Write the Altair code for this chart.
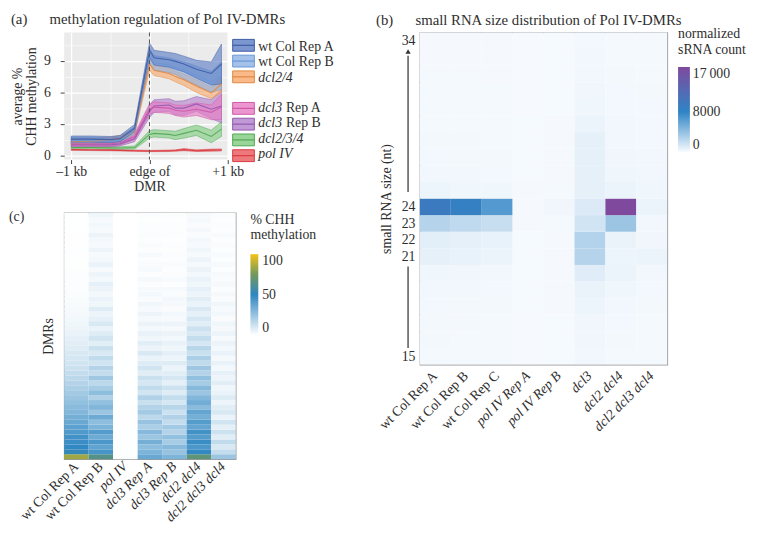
import json
import altair as alt
import pandas as pd

FONT = "Liberation Serif"
INK = "#2e2e2e"
NBSP = "\u00a0"

# ---------------- panel (a): CHH methylation around Pol IV-DMR edges ----------------
a_pos = [-1000, -750, -500, -375, -190, 0, 60, 250, 330, 440, 600, 790, 920]
a_series = ["wt Col Rep A", "wt Col Rep B", "dcl2/4", "dcl3 Rep A", "dcl3 Rep B", "dcl2/3/4", "pol IV"]
a_fill = ["#5b7cc4", "#8db2e4", "#f7a86b", "#e77cc3", "#b27fcb", "#7fcb80", "#e8575c"]
a_line = ["#3e5ca6", "#6a97d6", "#e08840", "#cf56a8", "#9158b0", "#4fa853", "#d93a40"]

wtA_mean = [1.55, 1.55, 1.5, 1.6, 2.6, 10.0, 9.3, 9.1, 8.95, 8.7, 8.2, 7.8, 8.7]
wtA_spread = [0.3, 0.3, 0.3, 0.3, 0.35, 0.7, 0.7, 0.7, 0.75, 0.75, 0.85, 1.1, 1.9]
wtB_mean = [1.4, 1.4, 1.35, 1.45, 2.4, 9.5, 8.8, 8.6, 8.4, 8.1, 7.6, 7.0, 7.6]
wtB_spread = [0.3, 0.3, 0.3, 0.3, 0.35, 0.7, 0.7, 0.7, 0.7, 0.8, 0.9, 1.0, 1.3]
d24_mean = [1.3, 1.35, 1.5, 1.6, 2.3, 8.7, 8.1, 7.8, 7.5, 7.2, 6.6, 5.95, 6.8]
d24_spread = [0.25, 0.25, 0.25, 0.3, 0.3, 0.6, 0.5, 0.5, 0.5, 0.55, 0.6, 0.55, 0.8]
d3A_mean = [1.1, 1.1, 1.1, 1.2, 1.8, 4.4, 4.6, 4.5, 4.3, 4.2, 4.4, 4.1, 4.6]
d3A_spread = [0.2, 0.2, 0.2, 0.2, 0.3, 0.5, 0.5, 0.5, 0.5, 0.55, 0.6, 0.7, 1.2]
d3B_mean = [1.0, 1.0, 1.0, 1.1, 1.6, 4.2, 4.7, 4.8, 4.5, 4.5, 4.9, 4.4, 4.7]
d3B_spread = [0.2, 0.2, 0.2, 0.2, 0.3, 0.6, 0.6, 0.6, 0.65, 0.7, 0.7, 0.9, 1.6]
d234_mean = [0.75, 0.75, 0.72, 0.7, 0.75, 2.0, 2.1, 2.0, 1.9, 2.1, 2.4, 1.8, 2.5]
d234_spread = [0.12, 0.12, 0.12, 0.12, 0.15, 0.35, 0.35, 0.35, 0.4, 0.45, 0.5, 0.6, 0.7]
pol4_mean = [0.55, 0.52, 0.5, 0.48, 0.45, 0.42, 0.42, 0.44, 0.46, 0.55, 0.45, 0.5, 0.52]
pol4_spread = [0.06, 0.06, 0.06, 0.06, 0.06, 0.06, 0.06, 0.07, 0.07, 0.1, 0.08, 0.1, 0.1]

a_x_grid = [-1000, -750, -500, -250, 0, 250, 500, 750, 1000]
a_x_ticks = [-1000, 0, 1000]
a_x_labels = ["\u20131 kb", "edge of\nDMR", "+1 kb"]
a_y_grid = [0, 1.5, 3, 4.5, 6, 7.5, 9, 10.5]

leg_slots = ["wt Col Rep A", "wt Col Rep B", "dcl2/4", " ", "dcl3 Rep A", "dcl3 Rep B", "dcl2/3/4", "pol IV"]
leg_italic = ["", "", "dcl2/4", "dcl3", "dcl3", "dcl2/3/4", "pol IV"]
leg_roman = ["wt Col Rep A", "wt Col Rep B", "", "", "", "", ""]
leg_suffix = ["", "", "", "Rep A", "Rep B", "", ""]

a_values = {
    "wt Col Rep A": (wtA_mean, wtA_spread),
    "wt Col Rep B": (wtB_mean, wtB_spread),
    "dcl2/4": (d24_mean, d24_spread),
    "dcl3 Rep A": (d3A_mean, d3A_spread),
    "dcl3 Rep B": (d3B_mean, d3B_spread),
    "dcl2/3/4": (d234_mean, d234_spread),
    "pol IV": (pol4_mean, pol4_spread),
}
rows = []
for s in reversed(a_series):
    m, sp = a_values[s]
    for x, mv, sv in zip(a_pos, m, sp):
        rows.append({"series": s, "pos": x, "mean": mv, "lo": mv - sv, "hi": mv + sv})
a_df = pd.DataFrame(rows)
leg_df = pd.DataFrame({"series": a_series, "ital": leg_italic, "roman": leg_roman, "suffix": leg_suffix})


def js(v):
    if isinstance(v, str) and "\n" in v:
        return json.dumps(v.split("\n"))
    return json.dumps(v)


x_expr = "".join(f"datum.value == {v} ? {js(l)} : " for v, l in zip(a_x_ticks, a_x_labels)) + "''"

fill_scale = alt.Scale(domain=a_series, range=a_fill)
stroke_scale = alt.Scale(domain=a_series, range=a_line)
a_xs = alt.Scale(domain=[-1090, 1000], nice=False, zero=False)
a_ys = alt.Scale(domain=[-0.4, 11.7], nice=False, zero=False)

a_xaxis = alt.Axis(
    values=a_x_grid, labelExpr=x_expr, title=None, domain=False, labelFlush=False,
    labelOverlap=False, gridColor="white",
    gridWidth={"condition": {"test": "datum.value % 1000 == 0", "value": 1.3}, "value": 0.6},
    tickColor={"condition": {"test": "datum.value % 1000 == 0", "value": "#444"}, "value": "transparent"},
    tickSize=4, labelPadding=1, labelLineHeight=15, labelFontSize=14,
)
a_yaxis = alt.Axis(
    values=a_y_grid, labelExpr="datum.value % 3 == 0 ? format(datum.value, 'd') : ''",
    title=["average %", "CHH methylation"], titleLineHeight=14, titlePadding=4, titleFontSize=14,
    domain=False, labelOverlap=False, gridColor="white",
    gridWidth={"condition": {"test": "datum.value % 3 == 0", "value": 1.3}, "value": 0.6},
    tickColor={"condition": {"test": "datum.value % 3 == 0", "value": "#444"}, "value": "transparent"},
    tickSize=4, labelPadding=10, minExtent=22, maxExtent=22, labelFontSize=14,
)

bands = alt.Chart(a_df).mark_area(fillOpacity=0.62, strokeWidth=0.7, strokeOpacity=0.7).encode(
    x=alt.X("pos:Q", scale=a_xs, axis=a_xaxis),
    y=alt.Y("lo:Q", scale=a_ys, axis=a_yaxis),
    y2="hi:Q",
    fill=alt.Fill("series:N", scale=fill_scale, legend=None),
    stroke=alt.Stroke("series:N", scale=stroke_scale, legend=None),
    detail="series:N",
)
lines = alt.Chart(a_df).mark_line(strokeWidth=1.1, opacity=0.9).encode(
    x=alt.X("pos:Q", scale=a_xs),
    y=alt.Y("mean:Q", scale=a_ys, axis=None),
    stroke=alt.Stroke("series:N", scale=stroke_scale, legend=None),
    detail="series:N",
)
edge = alt.Chart(pd.DataFrame({"pos": [0]})).mark_rule(
    color="#555", strokeDash=[4, 3], strokeWidth=1
).encode(x=alt.X("pos:Q", scale=a_xs))

leg_y = alt.Scale(domain=leg_slots, range=[7, 131], paddingInner=0.25, paddingOuter=0)
leg_box = alt.Chart(leg_df).mark_rect(fillOpacity=0.8, strokeWidth=1).encode(
    x=alt.value(171), x2=alt.value(193),
    y=alt.Y("series:N", scale=leg_y, axis=None),
    fill=alt.Fill("series:N", scale=fill_scale, legend=None),
    stroke=alt.Stroke("series:N", scale=stroke_scale, legend=None),
)
leg_line = alt.Chart(leg_df).mark_rule(strokeWidth=1.2).encode(
    x=alt.value(171), x2=alt.value(193),
    y=alt.Y("series:N", scale=leg_y, axis=None),
    stroke=alt.Stroke("series:N", scale=stroke_scale, legend=None),
)
leg_it = alt.Chart(leg_df).mark_text(align="left", baseline="middle", fontStyle="italic", fontSize=14, color=INK).encode(
    x=alt.value(197), y=alt.Y("series:N", scale=leg_y, axis=None), text="ital:N"
)
leg_ro = alt.Chart(leg_df).mark_text(align="left", baseline="middle", fontSize=14, color=INK).encode(
    x=alt.value(197), y=alt.Y("series:N", scale=leg_y, axis=None), text="roman:N"
)
leg_su = alt.Chart(leg_df).mark_text(align="left", baseline="middle", fontSize=14, color=INK).encode(
    x=alt.value(225), y=alt.Y("series:N", scale=leg_y, axis=None), text="suffix:N"
)

panel_a = alt.layer(bands, lines, edge, leg_box, leg_line, leg_it, leg_ro, leg_su).resolve_scale(
    y="independent"
).properties(
    width=166, height=129,
    view=alt.ViewBackground(fill="#EBEBEB", stroke=None),
    title=alt.TitleParams("(a)" + NBSP * 6 + "methylation regulation of Pol IV-DMRs",
                          anchor="start", frame="bounds", offset=5),
)

# ---------------- panel (c): per-DMR CHH methylation heatmap ----------------
c_samples = ["wt Col Rep A", "wt Col Rep B", "pol IV", "dcl3 Rep A", "dcl3 Rep B", "dcl2 dcl4", "dcl2 dcl3 dcl4"]
# 50 row bins, from the bottom (most methylated DMRs) to the top
c_wtA = [84, 52, 49, 47, 45, 42, 39, 36, 33, 30, 28, 26, 24, 22, 20, 18, 16, 14, 12.5, 11,
         10, 9, 8, 7, 6, 5, 4.2, 3.5, 3, 2.5, 2, 1.7, 1.4, 1.2, 1, 0.9, 0.8, 0.7, 0.6, 0.5,
         0.5, 0.4, 0.4, 0.3, 0.3, 0.3, 0.2, 0.2, 0.2, 0.2]
c_wtB = [64, 44, 38, 43, 35, 41, 31, 27, 35, 24, 30, 26, 19, 27, 21, 16, 23, 14, 18, 11,
         15, 9, 13, 7, 11, 8, 5, 9, 6, 4, 8, 3.5, 5, 3, 4.5, 6, 3, 4, 2, 5,
         3, 2, 4, 2, 3, 4.5, 2, 3, 2, 3.5]
c_pol4 = [0.6, 0.5, 0.5, 0.4, 0.4, 0.4, 0.3, 0.3, 0.3, 0.3, 0.3, 0.2, 0.2, 0.2, 0.2, 0.2, 0.2, 0.2, 0.2, 0.2,
          0.1, 0.1, 0.1, 0.1, 0.1, 0.1, 0.1, 0.1, 0.1, 0.1, 0.1, 0.1, 0.1, 0.1, 0.1, 0.1, 0.1, 0.1, 0.1, 0.1,
          0.1, 0.1, 0.1, 0.1, 0.1, 0.1, 0.1, 0.1, 0.1, 0.1]
c_d3A = [36, 31, 27, 33, 24, 29, 20, 25, 16, 22, 18, 13, 19, 11, 15, 10, 13, 7, 11, 8,
         5, 9, 4.5, 7, 3.5, 5.5, 3, 4.5, 2.5, 4, 2, 3.5, 1.5, 3, 2, 1.2, 2.5, 1, 2, 1.5,
         1, 2, 0.8, 1.5, 0.6, 1.2, 0.8, 1, 0.5, 0.8]
c_d3B = [31, 25, 29, 21, 26, 18, 22, 14, 19, 12, 17, 10, 14, 8, 12, 6.5, 10, 7, 4.5, 8,
         4, 6.5, 3.5, 5.5, 3, 4.5, 2.5, 4, 2, 3, 1.5, 2.5, 3, 1.5, 2, 1, 1.8, 1.2, 0.8, 1.5,
         0.8, 1.2, 0.6, 1, 0.5, 0.9, 0.6, 0.7, 0.4, 0.6]
c_d24 = [68, 49, 43, 47, 41, 45, 37, 41, 33, 37, 28, 34, 30, 24, 29, 21, 26, 18, 23, 15,
         20, 13, 17, 10, 14, 9, 12, 7, 10, 6, 9, 5, 7, 4, 6, 3.5, 5, 3, 4.5, 2.5,
         4, 2, 3.5, 2, 3, 1.5, 2.5, 1.5, 2.5, 2]
c_d234 = [24, 14, 9, 15, 7, 12, 6, 11, 5, 9, 7, 4, 8, 5, 3.5, 7, 4, 6, 3, 5.5,
          2.5, 5, 3, 4.5, 2, 4, 2.5, 3.5, 1.5, 3, 2, 3.5, 1.5, 2.5, 1.2, 2.5, 1.5, 2, 1, 2.2,
          1, 1.8, 0.8, 1.5, 1, 1.6, 0.7, 1.3, 0.8, 1.2]
c_cols = [c_wtA, c_wtB, c_pol4, c_d3A, c_d3B, c_d24, c_d234]
c_legend_values = [0, 50, 100]

crow = []
for s, col in zip(c_samples, c_cols):
    for i, v in enumerate(col):
        crow.append({"sample": s, "r0": i, "r1": i + 1, "pct": v})
c_df = pd.DataFrame(crow)

italic_test = {"condition": {"test": "indexof(datum.value, 'wt') == 0", "value": "normal"}, "value": "italic"}

c_rect = alt.Chart(c_df).mark_rect().encode(
    x=alt.X("sample:N", sort=c_samples, scale=alt.Scale(paddingInner=0, paddingOuter=0),
            axis=alt.Axis(title=None, labelAngle=-45, labelAlign="right", labelBaseline="middle",
                          ticks=False, domain=False, labelPadding=5, labelFontSize=14,
                          labelFontStyle=italic_test)),
    y=alt.Y("r0:Q", scale=alt.Scale(domain=[0, 50], nice=False),
            axis=alt.Axis(title="DMRs", labels=False, ticks=False, domain=False, grid=False,
                          minExtent=0, maxExtent=0, titlePadding=9, titleFontSize=14)),
    y2="r1:Q",
    color=alt.Color("pct:Q",
                    scale=alt.Scale(domain=[0, 50, 75, 100],
                                    range=["#ffffff", "#2e86c1", "#72995c", "#f4c217"],
                                    interpolate="rgb"),
                    legend=alt.Legend(title=["% CHH", "methylation"], orient="none", legendX=189, legendY=0,
                                      direction="vertical", gradientLength=82, gradientThickness=8,
                                      values=c_legend_values, titlePadding=12, labelOffset=4,
                                      gradientStrokeWidth=0, titleFontWeight="normal")),
)
c_tag = alt.Chart(pd.DataFrame({"t": ["(c)"]})).mark_text(
    align="left", baseline="top", fontSize=14, color=INK
).encode(x=alt.value(-56), y=alt.value(-3), text="t:N")

panel_c = alt.layer(c_rect, c_tag).properties(
    width=174, height=250, view=alt.ViewBackground(stroke="#9a9a9a", strokeWidth=1.2)
)

# ---------------- panel (b): small RNA size distribution ----------------
b_samples = ["wt Col Rep A", "wt Col Rep B", "wt Col Rep C", "pol IV Rep A", "pol IV Rep B",
             "dcl3", "dcl2 dcl4", "dcl2 dcl3 dcl4"]
b_sizes = [15, 16, 17, 18, 19, 20, 21, 22, 23, 24, 25, 26, 27, 28, 29, 30, 31, 32, 33, 34]
b_wtA = [100, 120, 120, 150, 200, 300, 700, 800, 2600, 9500, 350, 200, 150, 120, 100, 100, 80, 80, 60, 60]
b_wtB = [90, 100, 110, 140, 180, 250, 550, 650, 2200, 8600, 300, 180, 130, 110, 90, 90, 70, 70, 60, 50]
b_wtC = [80, 90, 100, 120, 160, 220, 450, 550, 1900, 6500, 280, 160, 120, 100, 80, 80, 70, 60, 50, 50]
b_polA = [20, 20, 20, 25, 25, 30, 30, 30, 40, 60, 40, 30, 30, 25, 25, 20, 20, 20, 20, 20]
b_polB = [30, 30, 30, 35, 40, 50, 60, 60, 80, 250, 100, 60, 50, 40, 40, 30, 30, 30, 30, 30]
b_dcl3 = [200, 250, 250, 350, 500, 900, 2600, 2700, 1500, 1100, 700, 650, 700, 650, 450, 300, 250, 200, 200, 150]
b_d24 = [100, 120, 150, 200, 300, 400, 350, 500, 3600, 17000, 400, 300, 250, 200, 200, 150, 150, 120, 100, 100]
b_d234 = [80, 80, 100, 120, 150, 200, 400, 250, 200, 400, 300, 200, 200, 150, 150, 150, 120, 100, 100, 80]
b_cols = [b_wtA, b_wtB, b_wtC, b_polA, b_polB, b_dcl3, b_d24, b_d234]
b_y_labels = [15, 21, 22, 23, 24, 34]
b_legend_values = [0, 8000, 17000]
b_legend_labels = ["0", "8000", "17\u2009000"]
arrow_from = [15.5, 24.9]
arrow_to = [20.4, 33.1]
arrow_tip = [33.35]

brow = []
for s, col in zip(b_samples, b_cols):
    for sz, v in zip(b_sizes, col):
        brow.append({"sample": s, "size": sz, "lo": sz - 0.5, "hi": sz + 0.5, "count": v})
b_df = pd.DataFrame(brow)

b_ys = alt.Scale(domain=[14.5, 34.5], nice=False, zero=False)
b_yaxis = alt.Axis(values=b_y_labels, title="small RNA size (nt)", ticks=False, domain=False, grid=False,
                   labelPadding=5, titlePadding=8, labelFontSize=14, titleFontSize=14)
leg_expr = "".join(f"datum.value == {v} ? {js(l)} : " for v, l in zip(b_legend_values, b_legend_labels)) + "datum.label"

b_rect = alt.Chart(b_df).mark_rect().encode(
    x=alt.X("sample:N", sort=b_samples, scale=alt.Scale(paddingInner=0, paddingOuter=0),
            axis=alt.Axis(title=None, labelAngle=-45, labelAlign="right", labelBaseline="middle",
                          ticks=False, domain=False, labelPadding=9, labelFontSize=14,
                          labelFontStyle=italic_test)),
    y=alt.Y("lo:Q", scale=b_ys, axis=b_yaxis),
    y2="hi:Q",
    color=alt.Color("count:Q",
                    scale=alt.Scale(domain=[0, 8000, 17000], range=["#f6fafe", "#2f84c5", "#7f4a9e"],
                                    interpolate="rgb"),
                    legend=alt.Legend(title=["normalized", "sRNA count"], orient="none", legendX=262, legendY=-5,
                                      direction="vertical", gradientLength=86, gradientThickness=12,
                                      values=b_legend_values, labelExpr=leg_expr, titlePadding=10,
                                      labelOffset=3, gradientStrokeWidth=0, titleFontWeight="normal")),
)
arrow = alt.Chart(pd.DataFrame({"a": arrow_from, "b": arrow_to})).mark_rule(
    color="#555", strokeWidth=1.5
).encode(x=alt.value(-12), y=alt.Y("a:Q", scale=b_ys, axis=b_yaxis), y2="b:Q")
tip = alt.Chart(pd.DataFrame({"a": arrow_tip})).mark_point(
    shape="triangle-up", filled=True, size=28, color="#333", opacity=1
).encode(x=alt.value(-12), y=alt.Y("a:Q", scale=b_ys, axis=b_yaxis))

panel_b = alt.layer(b_rect, arrow, tip).properties(
    width=251, height=337,
    view=alt.ViewBackground(stroke="#9a9a9a", strokeWidth=1.2),
    title=alt.TitleParams("(b)" + NBSP * 6 + "small RNA size distribution of Pol IV-DMRs",
                          anchor="start", frame="bounds", offset=0),
)

indep = dict(color="independent", fill="independent", stroke="independent")
left_col = alt.vconcat(panel_a, panel_c, spacing=16).resolve_scale(**indep).resolve_legend(
    color="independent", fill="independent", stroke="independent")

chart = alt.hconcat(left_col, panel_b, spacing=40).resolve_scale(**indep).resolve_legend(
    color="independent", fill="independent", stroke="independent"
).properties(
    padding={"left": 0, "top": 0, "right": 2, "bottom": 0}
).configure(font=FONT).configure_axis(
    labelFont=FONT, titleFont=FONT, labelColor=INK, titleColor=INK, titleFontWeight="normal",
).configure_legend(
    labelFont=FONT, titleFont=FONT, labelColor=INK, titleColor=INK, labelFontSize=14, titleFontSize=14,
).configure_title(
    font=FONT, fontSize=15, fontWeight="normal", color=INK, anchor="start",
).configure_text(font=FONT)

chart.save("out.html", embed_options={"renderer": "svg", "actions": False})
